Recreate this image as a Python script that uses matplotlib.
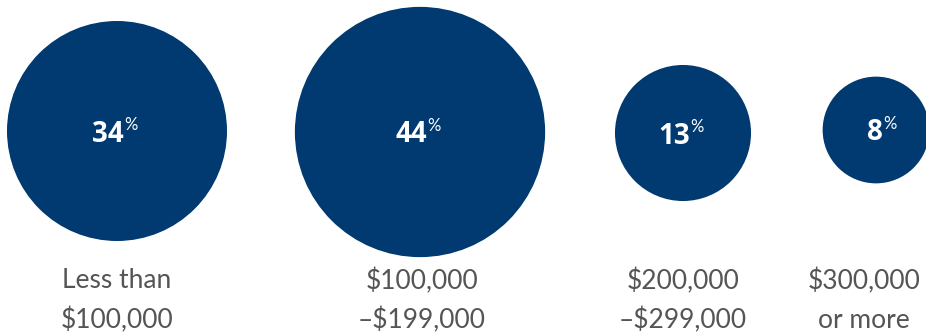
import numpy as np
import matplotlib
matplotlib.use("Agg")
import matplotlib.pyplot as plt
from matplotlib.patches import Circle

# data
categories = ["Less than\n$100,000", "$100,000\n\u2013$199,000",
              "$200,000\n\u2013$299,000", "$300,000\nor more"]
shares = [34, 44, 13, 8]

# layout (pixel space)
centers_x = [117, 420, 683, 876]
centers_y = [131, 132, 133, 130]
label_x = [117, 422, 683, 864]
base_r = 110  # radius of the 34% circle, area scales with value

navy = "#003a70"
grey = "#555555"

fig = plt.figure(figsize=(9.26, 3.35), dpi=100)
ax = fig.add_axes([0, 0, 1, 1])
ax.set_xlim(0, 926)
ax.set_ylim(335, 0)
ax.set_aspect("equal")
ax.axis("off")

for cat, v, cx, cy, lx in zip(categories, shares, centers_x, centers_y, label_x):
    r = base_r * np.sqrt(v / shares[0])
    ax.add_patch(Circle((cx, cy), r, color=navy, lw=0))
    ax.text(cx + 7, cy + 3, str(v), color="white", fontsize=20,
            fontweight="bold", family="Open Sans", ha="right", va="center")
    ax.text(cx + 7, cy - 6, "%", color="white", fontsize=12,
            family="Lato", ha="left", va="center")
    line1, line2 = cat.split("\n")
    ax.text(lx, 281, line1, color=grey, fontsize=19, family="Lato",
            ha="center", va="center")
    ax.text(lx, 320, line2, color=grey, fontsize=19, family="Lato",
            ha="center", va="center")

fig.savefig("out.png", dpi=100)
